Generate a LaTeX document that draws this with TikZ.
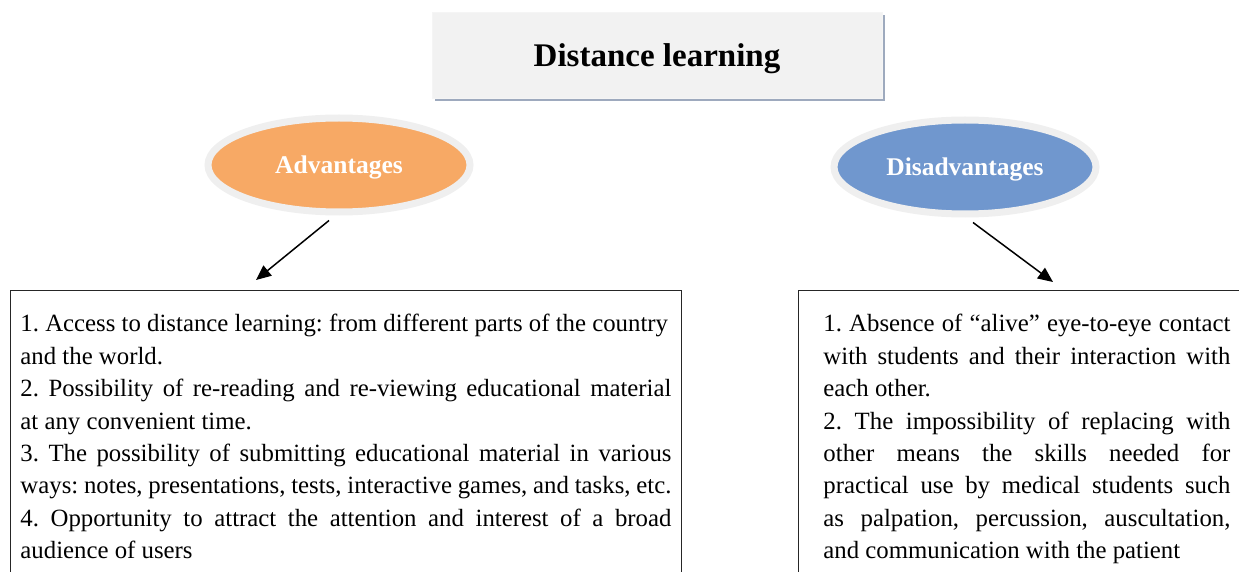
\documentclass[tikz,border=0pt]{standalone}
\usepackage{fontspec}
\setmainfont{Liberation Serif}
\usetikzlibrary{shapes.geometric,arrows.meta,shadows}
\definecolor{advorange}{RGB}{247,169,101}
\definecolor{disblue}{RGB}{112,151,206}
\definecolor{ringgray}{RGB}{239,239,239}
\definecolor{titlegray}{RGB}{242,242,242}
\definecolor{shadowblue}{RGB}{158,170,190}
\frenchspacing

\begin{document}
\begin{tikzpicture}[
    x=1pt, y=-1pt,
    title/.style={rectangle, fill=titlegray, draw=gray!8, minimum width=450pt, minimum height=86pt, text depth=0pt, font=\fontsize{33}{38}\selectfont\bfseries, drop shadow={shadow xshift=3pt, shadow yshift=-3pt, fill=shadowblue, opacity=1}},
    side/.style={ellipse, draw=ringgray, line width=7pt, minimum width=262pt, minimum height=94pt, inner sep=0pt, text depth=0pt, text=white, font=\fontsize{25.5}{30}\selectfont\bfseries},
    listbox/.style={rectangle, draw=black!85, line width=0.9pt, anchor=north west, inner ysep=24pt, align=justify, font=\fontsize{24.8}{32.4}\selectfont},
    arr/.style={line width=1.5pt, -{Triangle[length=15pt,width=13pt]}}
]
\useasboundingbox (0,0) rectangle (1239,572);
\clip (0,0) rectangle (1239,572);

% Titre
\node[title] (dist) at (657,55) {Distance learning};

% Ellipses
\node[side, fill=advorange] (adv) at (339,165) {Advantages};
\node[side, fill=disblue] (disadv) at (965,167) {Disadvantages};

% Cadres
\node[listbox, inner xsep=10pt, text width=651pt] (advbox) at (10,290) {%
1. Access to distance learning: from different parts of the country\\
and the world.\\
2. Possibility of re-reading and re-viewing educational material\linebreak
at any convenient time.\\
3. The possibility of submitting educational material in various\linebreak
ways: notes, presentations, tests, interactive games, and tasks, etc.\\
4. Opportunity to attract the attention and interest of a broad\linebreak
audience of users};
\node[listbox, inner xsep=25pt, text width=407pt] (disbox) at (798,290) {%
1. Absence of “alive” eye-to-eye contact\linebreak
with students and their interaction with\linebreak
each other.\\
2. The impossibility of replacing with\linebreak
other means the skills needed for\linebreak
practical use by medical students such\linebreak
as palpation, percussion, auscultation,\linebreak
and communication with the patient};

% Fleches
\coordinate (advtip) at (256,280);
\coordinate (distip) at (1053,282);
\draw[arr] ([shift={(-10,5)}]adv.south) -- (advtip);
\draw[arr] ([shift={(8,5)}]disadv.south) -- (distip);

\end{tikzpicture}
\end{document}
